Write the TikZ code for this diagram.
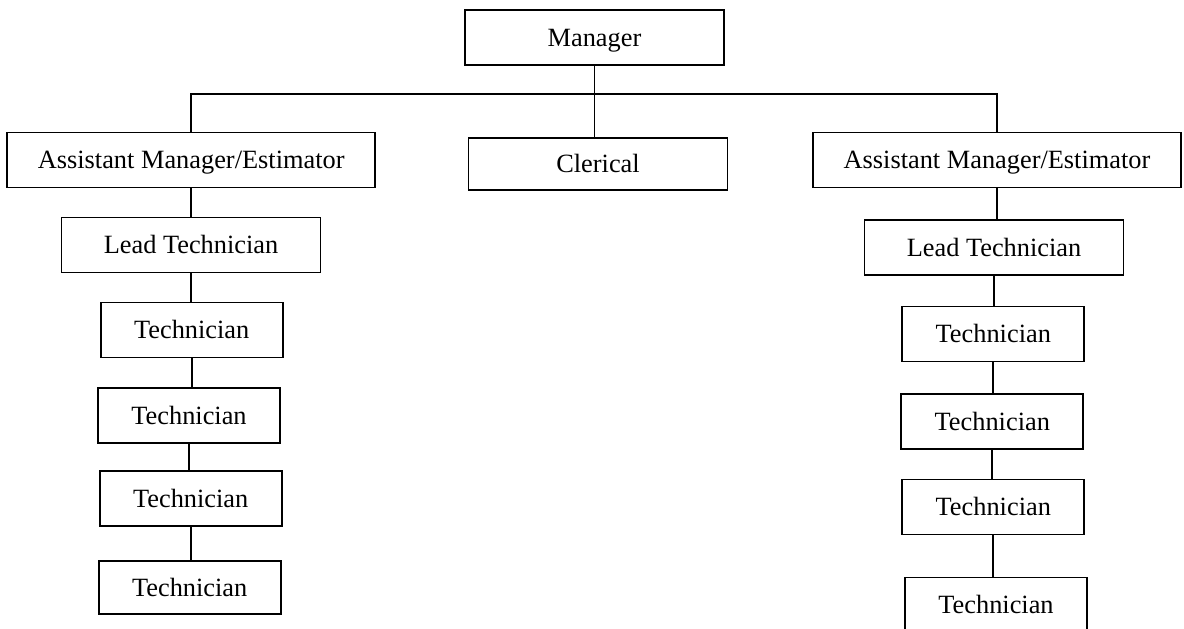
\documentclass[tikz,border=0pt]{standalone}
\usepackage{fontspec}
\setmainfont{Liberation Serif}
\usepackage{tikz}
\usetikzlibrary{positioning}

\begin{document}
\begin{tikzpicture}[
  x=0.02cm, y=-0.02cm,
  every node/.style={font=\fontsize{15pt}{18pt}\selectfont},
  rolebox/.style={draw, line width=1pt, inner sep=0pt, minimum height=1.1cm,
    text height=9.9pt, text depth=0pt, align=center},
  widebox/.style={rolebox, minimum width=7.36cm},
  midbox/.style={rolebox, minimum width=5.18cm},
  techbox/.style={rolebox, minimum width=3.64cm},
  link/.style={line width=1pt}
]
\useasboundingbox (0,0) rectangle (1184,629);

% top of the chart
\node[midbox] (mgr) at (594.5,37.5) {Manager};
\node[widebox] (asstL) at (191.2,160) {Assistant Manager/Estimator};
\node[midbox, minimum height=1.05cm] (clerk) at (598,164) {Clerical};
\node[widebox] (asstR) at (997,160) {Assistant Manager/Estimator};
\coordinate (bus) at (594.5,94);

% left branch
\node[midbox] (leadL) at (191,245) {Lead Technician};
\node[techbox] (techL1) at (191.7,330) {Technician};
\node[techbox] (techL2) at (189,415.5) {Technician};
\node[techbox] (techL3) at (190.7,498.5) {Technician};
\node[techbox, minimum height=1.06cm] (techL4) at (189.7,587.5) {Technician};

% right branch
\node[midbox] (leadR) at (994,247.5) {Lead Technician};
\node[techbox] (techR1) at (993.3,334) {Technician};
\node[techbox] (techR2) at (992.3,421.5) {Technician};
\node[techbox] (techR3) at (993.3,507) {Technician};
\node[techbox] (techR4) at (996,605) {Technician};

\draw[link] (mgr.south) -- (mgr.south |- clerk.north);
\draw[link] (asstL.north) |- (bus) -| (asstR.north);

\draw[link] (asstL.south) -- (asstL.south |- leadL.north);
\draw[link] (leadL.south) -- (leadL.south |- techL1.north);
\draw[link] (techL1.south) -- (techL1.south |- techL2.north);
\draw[link] (techL2.south) -- (techL2.south |- techL3.north);
\draw[link] (techL3.south) -- (techL3.south |- techL4.north);

\draw[link] (asstR.south) -- (asstR.south |- leadR.north);
\draw[link] (leadR.south) -- (leadR.south |- techR1.north);
\draw[link] (techR1.south) -- (techR1.south |- techR2.north);
\draw[link] (techR2.south) -- (techR2.south |- techR3.north);
\draw[link] (techR3.south) -- (techR3.south |- techR4.north);
\end{tikzpicture}
\end{document}
